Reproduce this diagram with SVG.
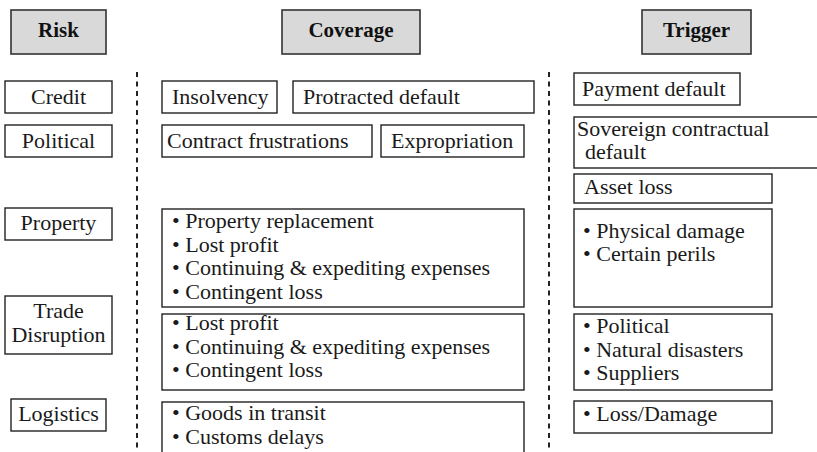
<svg xmlns="http://www.w3.org/2000/svg" width="817" height="452" viewBox="0 0 817 452">
  <style>
    .box { fill: #ffffff; stroke: #222222; stroke-width: 1.4; }
    .head { fill: #d9d9d9; stroke: #333333; stroke-width: 1.6; }
    .t { font-family: "Liberation Serif", "Times New Roman", serif; font-size: 22px; fill: #1a1a1a; }
    .c { text-anchor: middle; }
    .h { font-family: "Liberation Serif", "Times New Roman", serif; font-size: 21px; font-weight: bold; fill: #111111; text-anchor: middle; }
    .sep { stroke: #222222; stroke-width: 2; stroke-dasharray: 5 4.5; fill: none; }
  </style>
  <rect width="817" height="452" fill="#ffffff"/>

  <!-- column separators -->
  <g id="connectors">
    <line class="sep" x1="137" y1="72" x2="137" y2="452"/>
    <line class="sep" x1="549" y1="72" x2="549" y2="452"/>
  </g>

  <!-- column headers -->
  <g id="head-risk">
    <rect class="head" x="11" y="10" width="95" height="44"/>
    <text class="h" x="58.5" y="37">Risk</text>
  </g>
  <g id="head-coverage">
    <rect class="head" x="282" y="10" width="138" height="44"/>
    <text class="h" x="351" y="37">Coverage</text>
  </g>
  <g id="head-trigger">
    <rect class="head" x="642" y="10" width="109" height="44"/>
    <text class="h" x="696.5" y="37">Trigger</text>
  </g>

  <!-- risk column -->
  <g id="risk-credit">
    <rect class="box" x="5" y="81" width="107" height="32"/>
    <text class="t c" x="58.5" y="104">Credit</text>
  </g>
  <g id="risk-political">
    <rect class="box" x="5" y="125" width="107" height="32"/>
    <text class="t c" x="58.5" y="148">Political</text>
  </g>
  <g id="risk-property">
    <rect class="box" x="5" y="208" width="107" height="32"/>
    <text class="t c" x="58.5" y="230">Property</text>
  </g>
  <g id="risk-trade">
    <rect class="box" x="5" y="296" width="107" height="58"/>
    <text class="t c" x="58.5" y="318">Trade</text>
    <text class="t c" x="58.5" y="342">Disruption</text>
  </g>
  <g id="risk-logistics">
    <rect class="box" x="11" y="399" width="95" height="32"/>
    <text class="t c" x="58.5" y="421">Logistics</text>
  </g>

  <!-- coverage column -->
  <g id="cov-insolvency">
    <rect class="box" x="162" y="81" width="115" height="32"/>
    <text class="t" x="172" y="104">Insolvency</text>
  </g>
  <g id="cov-protracted">
    <rect class="box" x="293" y="81" width="241" height="32"/>
    <text class="t" x="303" y="104">Protracted default</text>
  </g>
  <g id="cov-frustrations">
    <rect class="box" x="162" y="125" width="210" height="32"/>
    <text class="t" x="167" y="148">Contract frustrations</text>
  </g>
  <g id="cov-expropriation">
    <rect class="box" x="381" y="125" width="143" height="32"/>
    <text class="t" x="391" y="148">Expropriation</text>
  </g>
  <g id="cov-property">
    <rect class="box" x="162" y="209" width="362" height="98"/>
    <text class="t" x="172" y="228">• Property replacement</text>
    <text class="t" x="172" y="251.5">• Lost profit</text>
    <text class="t" x="172" y="275">• Continuing &amp; expediting expenses</text>
    <text class="t" x="172" y="298.5">• Contingent loss</text>
  </g>
  <g id="cov-trade">
    <rect class="box" x="162" y="314" width="362" height="76"/>
    <text class="t" x="172" y="330">• Lost profit</text>
    <text class="t" x="172" y="353.5">• Continuing &amp; expediting expenses</text>
    <text class="t" x="172" y="377">• Contingent loss</text>
  </g>
  <g id="cov-logistics">
    <rect class="box" x="162" y="402" width="362" height="60"/>
    <text class="t" x="172" y="420">• Goods in transit</text>
    <text class="t" x="172" y="443.5">• Customs delays</text>
  </g>

  <!-- trigger column -->
  <g id="trg-payment">
    <rect class="box" x="574" y="73" width="166" height="32"/>
    <text class="t" x="582" y="96">Payment default</text>
  </g>
  <g id="trg-sovereign">
    <rect class="box" x="574" y="117" width="250" height="51"/>
    <text class="t" x="577" y="136">Sovereign contractual</text>
    <text class="t" x="585" y="159">default</text>
  </g>
  <g id="trg-asset">
    <rect class="box" x="574" y="174" width="198" height="29"/>
    <text class="t" x="584" y="194">Asset loss</text>
  </g>
  <g id="trg-property">
    <rect class="box" x="574" y="209" width="198" height="98"/>
    <text class="t" x="583" y="238">• Physical damage</text>
    <text class="t" x="583" y="261">• Certain perils</text>
  </g>
  <g id="trg-trade">
    <rect class="box" x="574" y="314" width="198" height="76"/>
    <text class="t" x="583" y="333">• Political</text>
    <text class="t" x="583" y="357">• Natural disasters</text>
    <text class="t" x="583" y="380">• Suppliers</text>
  </g>
  <g id="trg-logistics">
    <rect class="box" x="574" y="401" width="198" height="32"/>
    <text class="t" x="583" y="421">• Loss/Damage</text>
  </g>
</svg>
